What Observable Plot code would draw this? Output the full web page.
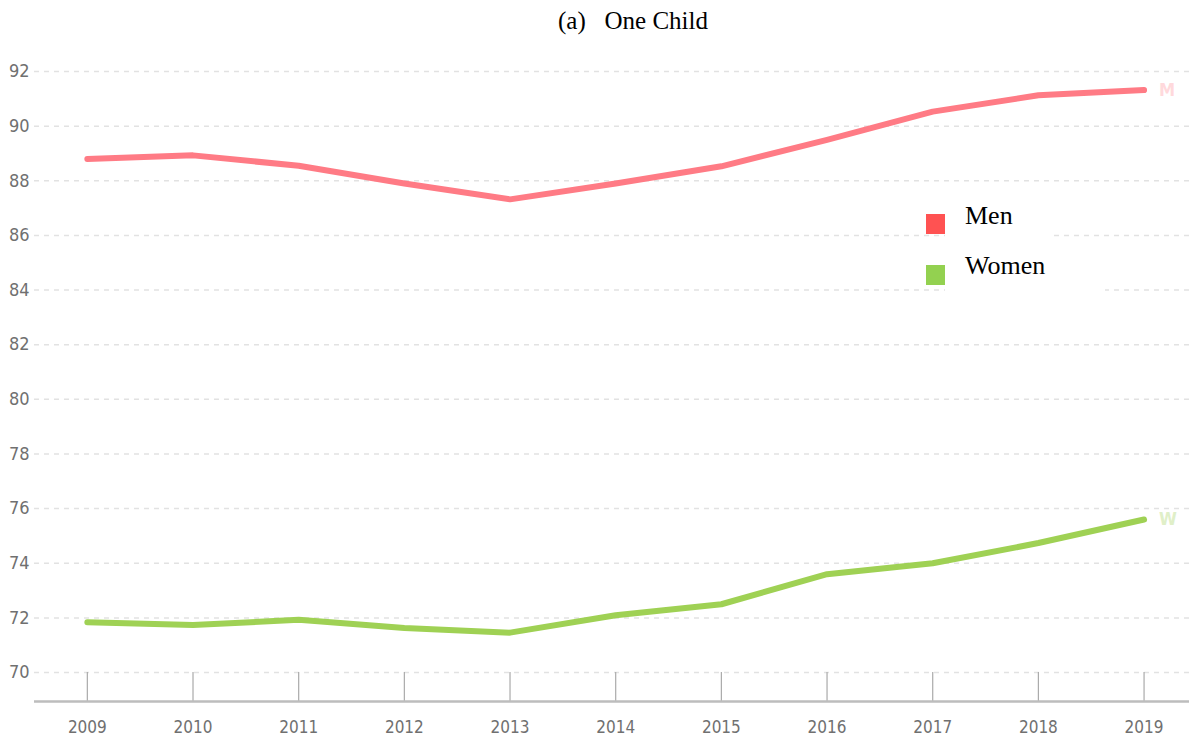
<!DOCTYPE html>
<html>
<head>
<meta charset="utf-8">
<script src="https://cdn.jsdelivr.net/npm/d3@7"></script>
<script src="https://cdn.jsdelivr.net/npm/@observablehq/plot@0.6"></script>
<style>
  html, body { margin: 0; padding: 0; background: #fff; }
  #wrap { position: relative; width: 1189px; height: 742px; overflow: hidden; }
  #title { height: 40px; position: relative; }
  #title span { position: absolute; left: 558px; top: 8px; font-family: "Liberation Serif", "Times New Roman", serif; font-size: 25px; line-height: 25px; color: #000; white-space: pre; }
  .lg-box { position: absolute; background: #fff; z-index: 2; }
  .lg-sq { position: absolute; z-index: 3; width: 19px; height: 20px; }
  .lg-txt { position: absolute; left: 20px; font-family: "Liberation Serif", "Times New Roman", serif; font-size: 26px; line-height: 26px; color: #000; white-space: pre; }
</style>
</head>
<body>
<div id="wrap">
  <div id="title"><span>(a)   One Child</span></div>
  <div id="chart"></div>
  <div id="legend"></div>
</div>
<script>
const years = [2009, 2010, 2011, 2012, 2013, 2014, 2015, 2016, 2017, 2018, 2019];
const menValues = [88.8, 88.93, 88.55, 87.9, 87.32, 87.9, 88.53, 89.5, 90.53, 91.13, 91.32];
const womenValues = [71.84, 71.74, 71.93, 71.63, 71.46, 72.1, 72.5, 73.6, 74.0, 74.74, 75.6];
const seriesNames = ["Men", "Women"];
const endLabels = ["M", "W"];
const lineColors = ["#ff7b85", "#9fd154"];
const endLabelColors = ["#ffd9dc", "#e0efc8"];
const legendColors = ["#ff5252", "#93d150"];
const yTicks = [70, 72, 74, 76, 78, 80, 82, 84, 86, 88, 90, 92];
const xTicks = years;

const data = [];
seriesNames.forEach((s, i) => {
  const vals = i === 0 ? menValues : womenValues;
  years.forEach((y, j) => data.push({series: s, year: y, value: vals[j]}));
});
const lastPoints = seriesNames.map((s, i) => {
  const vals = i === 0 ? menValues : womenValues;
  return {series: s, year: years[years.length - 1], value: vals[vals.length - 1], label: endLabels[i]};
});

const yBase = 68.94;
const font = '"Liberation Sans Narrow", "Arial Narrow", "DejaVu Sans Condensed", "Liberation Sans", sans-serif';

const chart = Plot.plot({
  width: 1189,
  height: 702,
  marginLeft: 34,
  marginRight: 0,
  marginTop: 31,
  marginBottom: 41,
  style: {fontFamily: font, fontSize: "18px", color: "#666", background: "#fff", overflow: "visible"},
  x: {domain: [2008.5, 2019.43], axis: null},
  y: {domain: [yBase, 92], axis: null},
  color: {domain: seriesNames, range: lineColors},
  marks: [
    Plot.ruleY(yTicks, {stroke: "#e2e2e2", strokeWidth: 1.5, strokeDasharray: "5,5"}),
    Plot.ruleX(xTicks, {y1: yBase, y2: 70, stroke: "#aaa", strokeWidth: 1.2}),
    Plot.ruleY([yBase], {stroke: "#bdbdbd", strokeWidth: 2.5}),
    Plot.axisY({ticks: yTicks, tickSize: 0, tickPadding: 5, fontSize: 18, fill: "#707070", label: null, tickFormat: d => d}),
    Plot.axisX({ticks: xTicks, tickSize: 0, tickPadding: 19, fontSize: 17, fill: "#707070", label: null, tickFormat: d => String(d)}),
    Plot.line(data, {x: "year", y: "value", z: "series", stroke: "series", strokeWidth: 6, strokeLinecap: "round", strokeLinejoin: "round"}),
    Plot.text(lastPoints, {x: "year", y: "value", text: "label", dx: 15, textAnchor: "start", fill: (d) => endLabelColors[seriesNames.indexOf(d.series)], fontWeight: "bold", fontSize: 18})
  ]
});
document.getElementById("chart").appendChild(chart);

// legend inside plot area
const legend = document.getElementById("legend");
const lgSpec = [
  {box: {left: 945, top: 200, width: 108, height: 42}, sq: {left: 926, top: 214}, txtTop: 2.5},
  {box: {left: 945, top: 252, width: 160, height: 42}, sq: {left: 926, top: 265}, txtTop: 1.2}
];
seriesNames.forEach((s, i) => {
  const spec = lgSpec[i];
  const box = document.createElement("div");
  box.className = "lg-box";
  Object.assign(box.style, {left: spec.box.left + "px", top: spec.box.top + "px", width: spec.box.width + "px", height: spec.box.height + "px"});
  const t = document.createElement("div");
  t.className = "lg-txt";
  t.style.top = spec.txtTop + "px";
  t.textContent = s;
  box.appendChild(t);
  legend.appendChild(box);
  const sq = document.createElement("div");
  sq.className = "lg-sq";
  Object.assign(sq.style, {left: spec.sq.left + "px", top: spec.sq.top + "px", background: legendColors[i]});
  legend.appendChild(sq);
});
</script>
</body>
</html>
